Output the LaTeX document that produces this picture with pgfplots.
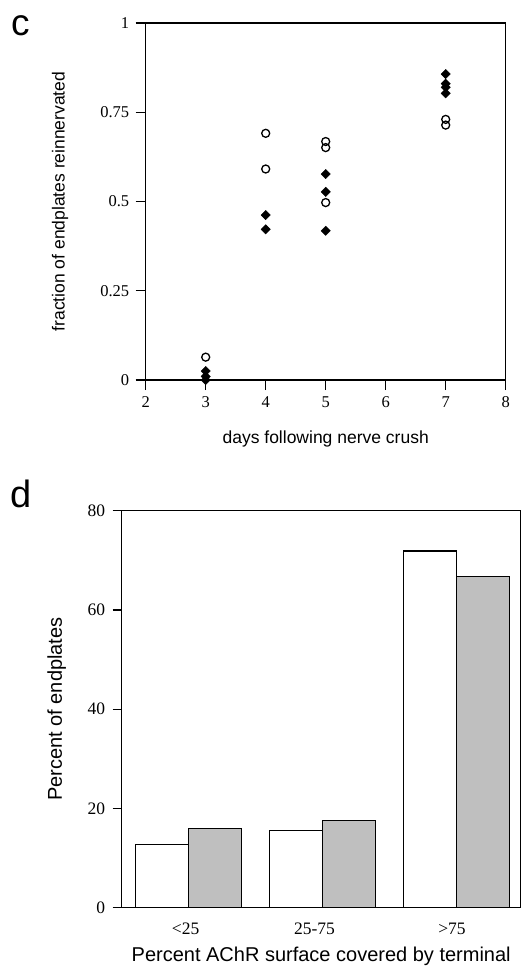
\documentclass[border=0pt]{standalone}
\usepackage{fontspec}
\setmainfont{Liberation Serif}
\newfontfamily\arial{Liberation Sans}
\usepackage{pgfplots}
\pgfplotsset{compat=1.18}
\newcommand{\tickc}{\fontsize{16.5}{18}\selectfont}
\newcommand{\tickd}{\fontsize{17.5}{19}\selectfont}

\begin{document}
\begin{tikzpicture}[x=1pt,y=1pt]
\useasboundingbox (0,0) rectangle (524,-973);
% panel letters
\node[anchor=base west, inner sep=0, font=\arial\fontsize{37}{40}\selectfont] at (11,-36) {c};
\node[anchor=base west, inner sep=0, font=\arial\fontsize{38}{40}\selectfont] at (10,-507.7) {d};

% panel c: scatter
\begin{axis}[
  at={(145.7pt,-380pt)}, anchor=south west,
  scale only axis, width=360pt, height=357pt,
  xmin=2, xmax=8, ymin=0, ymax=1,
  xtick={2,...,8}, ytick={0,0.25,0.5,0.75,1},
  tick align=outside, tick pos=left,
  major tick length=10pt,
  axis line style={line width=1.4pt},
  tick style={line width=1.4pt, black},
  /pgf/number format/assume math mode=true,
  xticklabel={\tickc\pgfmathprintnumber{\tick}},
  yticklabel={\tickc\pgfmathprintnumber{\tick}},
  yticklabel style={anchor=east, xshift=-3pt},
  xticklabel style={anchor=north, yshift=-3pt},
  xlabel={days following nerve crush},
  ylabel={fraction of endplates reinnervated},
  label style={font=\arial\fontsize{17.5}{20}\selectfont},
  xlabel style={at={(axis description cs:0.5,-0.165)}, anchor=center},
  ylabel style={at={(axis description cs:-0.238,0.5)}, anchor=center},
  clip=false,
]
% open circles
\addplot[only marks, mark=o, mark size=4pt, mark options={line width=1.3pt, draw=black, fill=white}] coordinates {
  (3,0.064) (4,0.691) (4,0.591) (5,0.668) (5,0.651) (5,0.497) (7,0.730) (7,0.714)
};
% filled diamonds
\addplot[only marks, mark=square*, mark size=3.3pt, mark options={rotate=45, fill=black, draw=black}] coordinates {
  (3,0.025) (3,0.01) (3,0)
  (4,0.462) (4,0.422)
  (5,0.577) (5,0.527) (5,0.418)
  (7,0.857) (7,0.830) (7,0.820) (7,0.803)
};
\end{axis}

% panel d: bars
\begin{axis}[
  at={(121.7pt,-907.7pt)}, anchor=south west,
  scale only axis, width=399pt, height=397pt,
  xmin=-0.496, xmax=2.477, ymin=0, ymax=80,
  ytick={0,20,40,60,80},
  xtick={-0.02,0.94,1.965},
  xticklabels={{\tickd <25},{\tickd 25-75},{\tickd >75}},
  yticklabel={\tickd\pgfmathprintnumber{\tick}},
  tick align=outside, tick pos=left,
  major tick length=9pt,
  axis line style={line width=1.4pt},
  tick style={line width=1.4pt, black},
  xtick style={draw=none},
  /pgf/number format/assume math mode=true,
  yticklabel style={anchor=east, xshift=-4pt},
  xticklabel style={anchor=north, yshift=-3pt},
  xlabel={Percent AChR surface covered by terminal},
  ylabel={Percent of endplates},
  label style={font=\arial\fontsize{20}{22}\selectfont},
  xlabel style={at={(axis description cs:0.5,-0.1234)}, anchor=center},
  ylabel style={at={(axis description cs:-0.163,0.5)}, anchor=center},
]
\addplot[ybar, bar width=0.395, bar shift=-0.1975, fill=white, draw=black, line width=1.2pt] coordinates {
  (0,12.8) (1,15.5) (2,71.9)
};
\addplot[ybar, bar width=0.395, bar shift=0.1975, fill=gray!50, draw=black, line width=1.2pt] coordinates {
  (0,16.0) (1,17.5) (2,66.7)
};
\end{axis}
\end{tikzpicture}
\end{document}
